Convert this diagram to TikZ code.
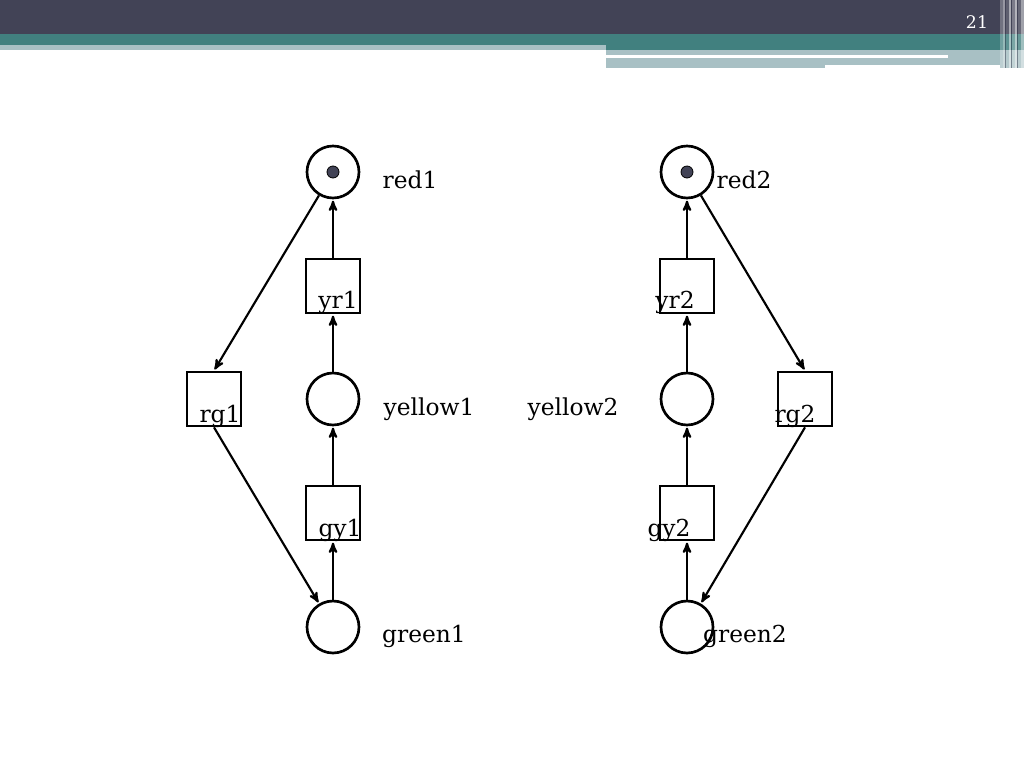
\documentclass[tikz,border=0pt]{standalone}
\usepackage{fontspec}
\setmainfont{DejaVu Serif}
\usepackage{tikz}
\usetikzlibrary{arrows,shapes}
\definecolor{slatebar}{HTML}{424356}
\definecolor{tealbar}{HTML}{41807F}
\definecolor{lightbar}{HTML}{A8C0C4}
\tikzset{
	place/.style={circle,draw,line width=2pt,minimum size=39pt,inner sep=0pt},
	trans/.style={rectangle,draw,line width=2pt,minimum size=40.5pt,inner sep=0pt},
	token/.style={circle,fill=slatebar,draw=black,line width=0.6pt,minimum size=9pt,inner sep=0pt},
	lbl/.style={anchor=base,inner sep=0pt,font=\fontsize{17.5pt}{20pt}\selectfont},
	arc/.style={->,>=stealth',line width=1.6pt,shorten >=1pt}
}
\begin{document}
\begin{tikzpicture}[x=0.75pt,y=-0.75pt]
		\useasboundingbox (0,0) rectangle (1024,768);

		% header bars
		\fill [slatebar] (0,0) rectangle (1024,34);
		\fill [tealbar] (0,34) rectangle (606,45);
		\fill [tealbar] (606,34) rectangle (1024,50);
		\fill [lightbar] (0,45) rectangle (606,50);
		\fill [lightbar] (606,50) rectangle (1024,68);
		\fill [white] (606,55) rectangle (948,58);
		\fill [white] (825,65) rectangle (1000,69);
		\foreach \x/\w/\o in {1000/3/0.25,1003/2/0.45,1006/3/0.15,1009/2/0.55,1012/3/0.3,1015/2/0.6,1018/3/0.2,1021/3/0.5}
			\fill [white,opacity=\o] (\x,0) rectangle ++(\w,68);
		\foreach \x in {1005,1011,1017}
			\fill [slatebar,opacity=0.5] (\x,0) rectangle ++(1,68);
		\node [anchor=base,text=white,font=\fontsize{13pt}{15pt}\selectfont] (pagenum) at (977,28) {21};

		% net 1
		\node [place] (red1) at (333,172) {};
		\node [token] (tok1) at (333,172) {};
		\node [trans] (yr1) at (333,286) {};
		\node [place] (yellow1) at (333,399) {};
		\node [trans] (gy1) at (333,513) {};
		\node [place] (green1) at (333,627) {};
		\node [trans] (rg1) at (214,399) {};

		% net 2
		\node [place] (red2) at (687,172) {};
		\node [token] (tok2) at (687,172) {};
		\node [trans] (yr2) at (687,286) {};
		\node [place] (yellow2) at (687,399) {};
		\node [trans] (gy2) at (687,513) {};
		\node [place] (green2) at (687,627) {};
		\node [trans] (rg2) at (805,399) {};

		% labels
		\node [lbl] (red1l) at (410,188) {red1};
		\node [lbl] (yellow1l) at (429,415) {yellow1};
		\node [lbl] (green1l) at (424,642) {green1};
		\node [lbl] (yr1l) at (338,308) {yr1};
		\node [lbl] (gy1l) at (340,536) {gy1};
		\node [lbl] (rg1l) at (220,422) {rg1};
		\node [lbl] (red2l) at (744,188) {red2};
		\node [lbl] (yellow2l) at (573,415) {yellow2};
		\node [lbl] (green2l) at (745,642) {green2};
		\node [lbl] (yr2l) at (675,308) {yr2};
		\node [lbl] (gy2l) at (669,536) {gy2};
		\node [lbl] (rg2l) at (795,422) {rg2};

		% arcs
		\draw [arc] (green1) -- (gy1);
		\draw [arc] (gy1) -- (yellow1);
		\draw [arc] (yellow1) -- (yr1);
		\draw [arc] (yr1) -- (red1);
		\draw [arc] (red1) -- (rg1.north);
		\draw [arc] (rg1.south) -- (green1);

		\draw [arc] (green2) -- (gy2);
		\draw [arc] (gy2) -- (yellow2);
		\draw [arc] (yellow2) -- (yr2);
		\draw [arc] (yr2) -- (red2);
		\draw [arc] (red2) -- (rg2.north);
		\draw [arc] (rg2.south) -- (green2);
	\end{tikzpicture}
\end{document}
